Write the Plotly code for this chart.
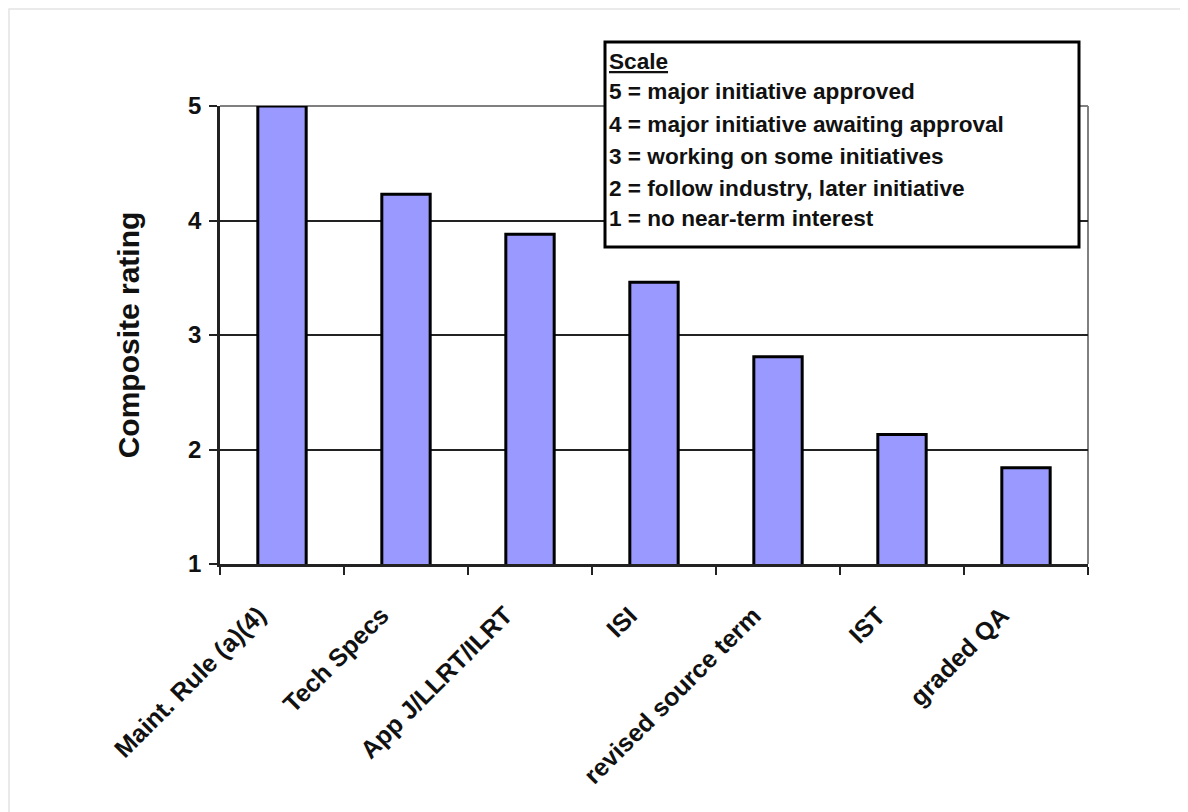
import plotly.graph_objects as go

categories = ["Maint. Rule (a)(4)", "Tech Specs", "App J/LLRT/ILRT", "ISI",
              "revised source term", "IST", "graded QA"]
ratings = [5.0, 4.23, 3.88, 3.46, 2.81, 2.13, 1.84]
y_ticks = [1, 2, 3, 4, 5]
scale_title = "Scale"
scale_lines = ["5 = major initiative approved",
               "4 = major initiative awaiting approval",
               "3 = working on some initiatives",
               "2 = follow industry, later initiative",
               "1 = no near-term interest"]

W, H = 1188, 812
OFF = 8  # page body offset
L, R, T, B = 220 - OFF, 100 + OFF, 106 - OFF, 248 + OFF
PX0, PX1, PY0, PY1 = 220, 1088, 106, 564  # plot area in page pixels

def px_x(px):
    return (px - PX0) / (PX1 - PX0)

def px_y(py):
    return (PY1 - py) / (PY1 - PY0)

FONT = "Liberation Sans, Arial, sans-serif"

fig = go.Figure(go.Bar(
    x=categories, y=ratings,
    marker=dict(color="#9999FF", line=dict(color="black", width=3)),
    width=0.39,
))

shapes = [
    dict(type="line", xref="paper", yref="paper", x0=1, x1=1, y0=0, y1=1,
         line=dict(color="#808080", width=2), layer="between"),
    dict(type="line", xref="paper", yref="paper", x0=0, x1=1, y0=1, y1=1,
         line=dict(color="#808080", width=2), layer="between"),
    dict(type="rect", xref="paper", yref="paper",
         x0=px_x(9), x1=px_x(1210), y0=px_y(9), y1=px_y(840),
         line=dict(color="#e3e3e3", width=1.5), layer="above"),
    dict(type="rect", xref="paper", yref="paper",
         x0=px_x(605), x1=px_x(1079), y0=px_y(42), y1=px_y(247),
         line=dict(color="black", width=3), fillcolor="white", layer="above"),
]

annotations = []
texts = ["<u>" + scale_title + "</u>"] + scale_lines
centers = [61, 91, 124, 156, 188, 218]
for txt, cy in zip(texts, centers):
    annotations.append(dict(
        xref="paper", yref="paper", x=px_x(607), y=px_y(cy),
        xanchor="left", yanchor="middle", text=txt,
        showarrow=False,
        font=dict(family=FONT, size=22.6, color="#111", weight="bold"),
    ))

# category labels (rotated, anchored by their top-right corner)
for cat in categories:
    annotations.append(dict(
        xref="x", yref="paper", x=cat, y=0,
        xanchor="right", yanchor="top", textangle=-45,
        xshift=-9, yshift=-34, text=cat, showarrow=False,
        font=dict(family=FONT, size=25, color="#111", weight="bold"),
    ))

fig.update_layout(
    width=W, height=H,
    margin=dict(l=L, r=R, t=T, b=B, autoexpand=False),
    paper_bgcolor="white", plot_bgcolor="white",
    showlegend=False,
    bargap=0.61,
    font=dict(family=FONT, color="#111"),
    shapes=shapes,
    annotations=annotations,
    xaxis=dict(
        type="category", categoryorder="array", categoryarray=categories,
        range=[-0.5, len(categories) - 0.5], autorange=False,
        tickson="boundaries", ticks="outside", ticklen=8,
        tickwidth=2, tickcolor="#222", showline=True, linewidth=2.5,
        linecolor="#222", showgrid=False, showticklabels=False,
        automargin=False,
    ),
    yaxis=dict(
        range=[1, 5], autorange=False, tickvals=y_ticks, ticks="outside",
        ticklen=8, tickwidth=2, tickcolor="#222", showline=True,
        linewidth=2.5, linecolor="#222", showgrid=True, gridcolor="#222",
        gridwidth=1.5, zeroline=False, ticklabelstandoff=3,
        tickfont=dict(family=FONT, size=24, color="#111", weight="bold"),
        title=dict(text="Composite rating",
                   font=dict(family=FONT, size=30, color="#111", weight="bold"),
                   standoff=40),
        automargin=False,
    ),
)

fig.write_html("out.html")
